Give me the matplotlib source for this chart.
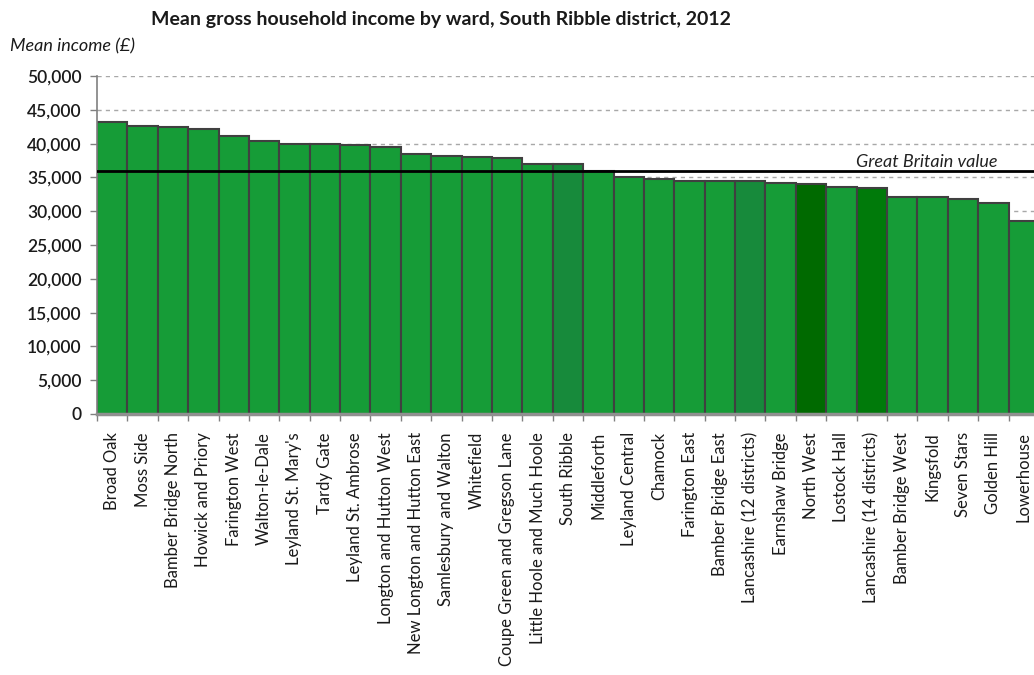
import matplotlib.pyplot as plt
import numpy as np

plt.rcParams['font.family'] = ['Lato', 'DejaVu Sans']

wards = ["Broad Oak", "Moss Side", "Bamber Bridge North", "Howick and Priory",
         "Farington West", "Walton-le-Dale", "Leyland St. Mary's", "Tardy Gate",
         "Leyland St. Ambrose", "Longton and Hutton West", "New Longton and Hutton East",
         "Samlesbury and Walton", "Whitefield", "Coupe Green and Gregson Lane",
         "Little Hoole and Much Hoole", "South Ribble", "Middleforth", "Leyland Central",
         "Chamock", "Farington East", "Bamber Bridge East", "Lancashire (12 districts)",
         "Earnshaw Bridge", "North West", "Lostock Hall", "Lancashire (14 districts)",
         "Bamber Bridge West", "Kingsfold", "Seven Stars", "Golden Hill", "Lowerhouse"]
income = [43200, 42600, 42500, 42200, 41100, 40400, 40000, 40000, 39800, 39500,
          38400, 38100, 38000, 37800, 37000, 37000, 35900, 35100, 34800, 34500,
          34400, 34500, 34200, 34000, 33600, 33500, 32100, 32100, 31800, 31200, 28600]
gb_value = 36000

# comparison areas get their own shade
bar_colors = ["#169c37"] * len(wards)
bar_colors[wards.index("South Ribble")] = "#178a3b"
bar_colors[wards.index("Lancashire (12 districts)")] = "#178a3b"
bar_colors[wards.index("North West")] = "#006a00"
bar_colors[wards.index("Lancashire (14 districts)")] = "#007a0a"

fig = plt.figure(figsize=(10.34, 6.75), dpi=100)
ax = fig.add_axes([0.0938, 0.3867, 0.911, 0.5007])

x = np.arange(len(wards))
ax.bar(x, income, width=1.0, color=bar_colors, edgecolor="#404040", linewidth=1.5, zorder=2)
ax.axhline(gb_value, color="black", linewidth=2, zorder=3)
ax.text(26.8, gb_value + 100, "Great Britain value", ha="center", va="bottom",
        fontsize=13, style="italic", color="#222222", zorder=4)

ax.set_xlim(-0.5, len(wards) - 0.5)
ax.set_ylim(0, 50000)
ax.set_yticks(np.arange(0, 50001, 5000))
ax.set_yticklabels([f"{v:,}" for v in range(0, 50001, 5000)], fontsize=12.5,
                   color="#1a1a1a", fontweight="semibold")
ax.yaxis.grid(True, linestyle=(0, (3, 3)), color="#a8a8a8", linewidth=1, zorder=0)
ax.set_axisbelow(True)

ax.set_xticks(x)
ax.set_xticklabels(wards, rotation=90, fontsize=12, color="#1a1a1a", va="top")
ax.tick_params(axis="x", length=0, pad=13)
ax.set_xticks(np.arange(-0.5, len(wards), 1), minor=True)
ax.tick_params(axis="x", which="minor", length=5, color="#808080", width=1)
ax.tick_params(axis="y", length=5, color="#808080", width=1, pad=6)

for s in ["top", "right"]:
    ax.spines[s].set_visible(False)
ax.spines["left"].set_color("#808080")
ax.spines["left"].set_linewidth(1.2)
ax.spines["bottom"].set_color("#909090")
ax.spines["bottom"].set_linewidth(2.5)

fig.text(0.4265, 0.971, "Mean gross household income by ward, South Ribble district, 2012",
         ha="center", va="center", fontsize=14, fontweight="bold", color="#1a1a1a")
fig.text(0.01, 0.932, "Mean income (\u00a3)", ha="left", va="center", fontsize=13,
         style="italic", color="#1a1a1a")

fig.savefig("out.png", dpi=100)
